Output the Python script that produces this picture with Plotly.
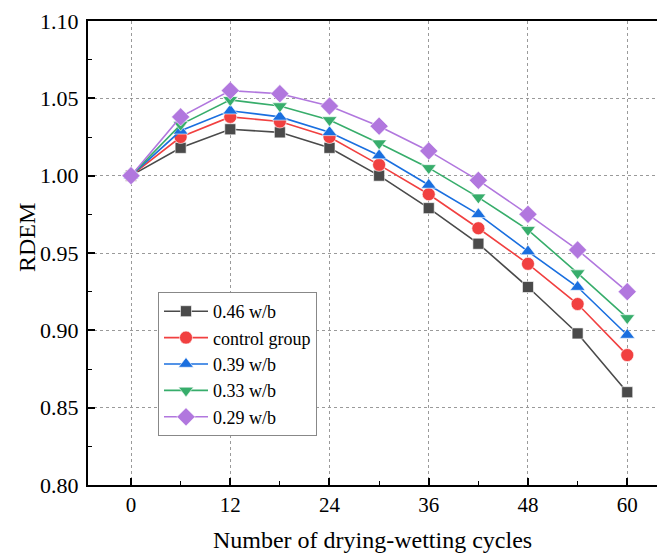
import plotly.graph_objects as go

cycles = [0, 6, 12, 18, 24, 30, 36, 42, 48, 54, 60]
series_names = ["0.46 w/b", "control group", "0.39 w/b", "0.33 w/b", "0.29 w/b"]
wb046 = [1.000, 1.018, 1.030, 1.028, 1.018, 1.000, 0.979, 0.956, 0.928, 0.898, 0.860]
control = [1.000, 1.025, 1.038, 1.035, 1.025, 1.007, 0.988, 0.966, 0.943, 0.917, 0.884]
wb039 = [1.000, 1.029, 1.042, 1.038, 1.028, 1.013, 0.994, 0.975, 0.951, 0.928, 0.897]
wb033 = [1.000, 1.033, 1.049, 1.045, 1.036, 1.021, 1.005, 0.986, 0.965, 0.937, 0.908]
wb029 = [1.000, 1.038, 1.055, 1.053, 1.045, 1.032, 1.016, 0.997, 0.975, 0.952, 0.925]

series_values = [wb046, control, wb039, wb033, wb029]
colors = ["#4a4a4a", "#F14040", "#1A6FDF", "#37AD6B", "#B177DE"]
symbols = ["square", "circle", "triangle-up", "triangle-down", "diamond"]
sizes = [11, 13, 13, 13, 14]

FONT = "Liberation Serif"

fig = go.Figure()
for name, vals, c, s, sz in zip(series_names, series_values, colors, symbols, sizes):
    fig.add_trace(go.Scatter(
        x=cycles, y=vals, name=name, mode="lines+markers",
        line=dict(color=c, width=1.6),
        marker=dict(symbol=s, size=sz, color=c, line=dict(color="white", width=0.6)),
    ))

W, H = 657, 553
ml, mr, mt, mb = 88, 0, 21, 68

fig.update_layout(
    width=W, height=H,
    margin=dict(l=ml, r=mr, t=mt, b=mb),
    paper_bgcolor="white", plot_bgcolor="white",
    font=dict(family=FONT, color="black", size=21),
    showlegend=True,
    legend=dict(
        x=(158 - ml) / (W - ml - mr), y=1 - (292 - mt) / (H - mt - mb),
        xanchor="left", yanchor="top",
        bgcolor="white", bordercolor="#888888", borderwidth=1,
        font=dict(family=FONT, size=18, color="black"),
        tracegroupgap=0, itemwidth=44,
    ),
    xaxis=dict(
        range=[-5.2, 63.6], tickmode="array", tickvals=[0, 12, 24, 36, 48, 60],
        ticks="inside", ticklen=7, tickwidth=1.5, tickcolor="black",
        minor=dict(ticks="inside", ticklen=4, tickwidth=1.2, tickcolor="black",
                   tickvals=[6, 18, 30, 42, 54], showgrid=False),
        showline=True, linecolor="black", linewidth=2, mirror=True,
        showgrid=True, gridcolor="#9a9a9a", gridwidth=1, griddash="dot",
        zeroline=False,
        tickfont=dict(family=FONT, size=21, color="black"),
        title=dict(text="Number of drying-wetting cycles", standoff=16,
                   font=dict(family=FONT, size=24, color="black")),
    ),
    yaxis=dict(
        range=[0.80, 1.10], dtick=0.05, tick0=0.80, tickformat=".2f",
        ticks="inside", ticklen=7, tickwidth=1.5, tickcolor="black",
        minor=dict(ticks="inside", ticklen=4, tickwidth=1.2, tickcolor="black",
                   dtick=0.025, tick0=0.825, showgrid=False),
        showline=True, linecolor="black", linewidth=2, mirror=False,
        showgrid=True, gridcolor="#9a9a9a", gridwidth=1, griddash="dot",
        zeroline=False, ticklabelstandoff=3,
        tickfont=dict(family=FONT, size=22, color="black"),
    ),
    annotations=[dict(
        text="RDEM", textangle=-90, xref="paper", yref="paper",
        x=-(ml - 27) / (W - ml - mr), y=1 - (238 - mt) / (H - mt - mb),
        xanchor="center", yanchor="middle", showarrow=False,
        font=dict(family=FONT, size=24, color="black"),
    )],
)

fig.write_html("out.html")
